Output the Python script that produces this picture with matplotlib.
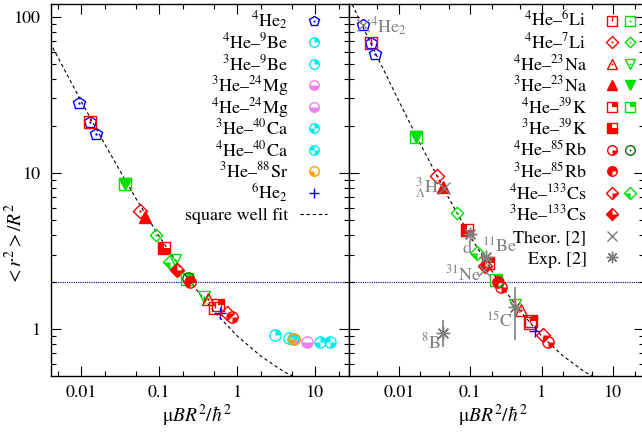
import matplotlib
matplotlib.use("Agg")
import numpy as np
import matplotlib.pyplot as plt
from matplotlib.path import Path
from matplotlib.ticker import LogLocator, FuncFormatter, NullFormatter

plt.rcParams['font.family'] = ['STIXGeneral', 'DejaVu Serif']
plt.rcParams['mathtext.fontset'] = 'stix'
plt.rcParams['font.size'] = 13

# ---------------- data ----------------
# square well fit, same curve in both panels
fit_x = [0.002, 0.0025, 0.005, 0.01, 0.02, 0.05, 0.1, 0.25, 0.5, 1.0, 2.0, 4.0, 6.0]
fit_y = [133, 107, 55.3, 28.8, 15.3, 6.88, 3.91, 2.0, 1.30, 0.90, 0.67, 0.53, 0.48]

# left panel
L_he2 = ([0.0095, 0.0130, 0.0156], [28.0, 21.3, 17.7])
L_li6_r = ([0.0130, 0.52], [21.3, 1.36])
L_li6_g = ([0.0359], [8.46])
L_na3_g = ([0.0359], [8.46])
L_li7_r = ([0.057], [5.71])
L_na3_r = ([0.066], [5.25])
L_li7_g = ([0.0907], [4.0])
L_k3_r = ([0.1135], [3.32])
L_cs4_g = ([0.138], [2.70])
L_na4_g = ([0.16, 0.37], [2.78, 1.61])
L_cs3_r = ([0.169], [2.39])
L_k4_r = ([0.56], [1.42])
L_k4_g = ([0.23], [2.10])
L_rb4_g = ([0.231], [2.11])
L_rb3_r = ([0.25], [2.01])
L_na4_r = ([0.417], [1.56])
L_he6 = ([0.605], [1.26])
L_cs4_r = ([0.74], [1.26])
L_rb4_r = ([0.855], [1.19])
L_be9_4 = ([3.07], [0.915])
L_be9_3 = ([4.55], [0.87])
L_mg3 = ([5.3], [0.86])
L_ca3 = ([5.2, 11.6], [0.86, 0.83])
L_sr3 = ([5.3], [0.86])
L_mg4 = ([7.8], [0.83])
L_ca4 = ([15.5], [0.83])

# right panel
R_he2 = ([0.0031, 0.00402, 0.00461], [88.9, 67.8, 57.9])
R_li6_r = ([0.00402, 0.68], [67.8, 1.09])
R_li6_g = ([0.0173], [17.1])
R_na3_g = ([0.0173], [17.1])
R_li7_r = ([0.0337], [9.57])
R_na3_r = ([0.0417], [8.1])
R_li7_g = ([0.064], [5.57])
R_k3_r = ([0.0885], [4.31])
R_cs4_g = ([0.122], [3.06])
R_cs3_r = ([0.16], [2.53])
R_k4_r = ([0.177, 0.70], [2.64, 1.12])
R_k4_g = ([0.232], [2.06])
R_rb3_r = ([0.245], [2.01])
R_rb4_r = ([0.273, 1.22], [1.87, 0.83])
R_na4_g = ([0.419], [1.43])
R_na4_r = ([0.52], [1.32])
R_he6 = ([0.80], [0.975])
R_cs4_r = ([1.04], [0.915])

# halo nuclei / molecules from ref. [2]
theor_x = [0.0031, 0.043, 0.155]
theor_y = [88.9, 8.0, 2.4]
exp_x = [0.0984, 0.165, 0.419, 0.0417]
exp_y = [4.06, 2.91, 1.38, 0.94]
exp_lo = [4.06, 2.91, 0.85, 0.77]
exp_hi = [4.06, 2.91, 1.87, 1.14]

# ---------------- marker shapes ----------------
def poly(pts):
    return Path(pts + [pts[0]], [Path.MOVETO] + [Path.LINETO] * (len(pts) - 1) + [Path.CLOSEPOLY])

SQ = poly([(-1, -1), (1, -1), (1, 1), (-1, 1)])
SQ_TR = poly([(0, 0), (1, 0), (1, 1), (0, 1)])
SQ_3Q = poly([(-1, -1), (1, -1), (1, 0), (0, 0), (0, 1), (-1, 1)])
DIA = poly([(1, 0), (0, 1), (-1, 0), (0, -1)])
DIA_BR = poly([(0, 0), (1, 0), (0, -1)])
DIA_BL = poly([(0, 0), (0, -1), (-1, 0)])
DIA_3Q = poly([(1, 0), (0, 0), (0, 1), (-1, 0), (0, -1)])
TICK = Path([(0, 0), (0, 1)], [Path.MOVETO, Path.LINETO])
C_TR = Path.wedge(0, 90)
C_BL = Path.wedge(180, 270)
C_BR = Path.wedge(270, 360)
C_BOT = Path.wedge(180, 360)
C_3Q = Path.wedge(0, 270)
C_CHK1 = Path.make_compound_path(Path.wedge(0, 90), Path.wedge(180, 270))
C_CHK2 = Path.make_compound_path(Path.wedge(90, 180), Path.wedge(270, 360))

RED = '#ff0000'
GRN = '#00e000'
DKGRN = '#007000'
BLUE = '#0000ff'
CYAN = '#00eeee'
VIOL = '#ee82ee'
ORNG = '#ffa000'
GRAY = '#808080'


def ol(m, c, s=1.0, dot=True):
    lay = [(m, 'none', c, s)]
    if dot:
        lay.append(('o', c, 'none', 0.2))
    return lay


def fl(m, c, s=1.0):
    return [(m, c, c, s)]


def part(outline, fill, c, s=1.0):
    return [(fill, c, 'none', s), (outline, 'none', c, s)]


st = {
    'he2': ol('p', BLUE, 1.05),
    'be9_4': part('o', C_TR, CYAN, 0.95),
    'be9_3': part('o', C_TR, CYAN, 0.95),
    'mg3': part('o', C_BOT, VIOL, 0.95),
    'mg4': part('o', C_BOT, VIOL, 0.95),
    'ca3': part('o', C_CHK1, CYAN, 0.95),
    'ca4': part('o', C_CHK2, CYAN, 0.95),
    'sr3': part('o', C_BL, ORNG, 0.95),
    'he6': [('+', 'none', BLUE, 1.0)],
    'li6_r': [(SQ, 'none', RED, 1.0), (TICK, 'none', RED, 1.0)],
    'li6_g': ol(SQ, GRN),
    'li7_r': ol(DIA, RED, 1.2),
    'li7_g': ol(DIA, GRN, 1.05),
    'na4_r': ol('^', RED),
    'na4_g': ol('v', GRN),
    'na3_r': fl('^', RED),
    'na3_g': fl('v', GRN),
    'k4_r': part(SQ, SQ_TR, RED),
    'k4_g': part(SQ, SQ_TR, GRN),
    'k3_r': part(SQ, SQ_3Q, RED),
    'rb4_r': part('o', C_BR, RED, 0.95),
    'rb4_g': ol('o', DKGRN, 0.95),
    'rb3_r': part('o', C_3Q, RED, 0.95),
    'cs4_r': part(DIA, DIA_BR, RED, 1.2),
    'cs4_g': part(DIA, DIA_BL, GRN, 1.2),
    'cs3_r': part(DIA, DIA_3Q, RED, 1.2),
    'theor': [('x', 'none', GRAY, 1.0)],
    'exp': [((8, 2, 0), 'none', GRAY, 1.15)],
}

MS = 8.5


def draw(ax, xy, key, ms=MS, **kw):
    x, y = xy
    for m, fc, ec, s in st[key]:
        ax.plot(x, y, ls='none', marker=m, ms=ms * s, mfc=fc, mec=ec,
                mew=0 if ec == 'none' else 1.0, **kw)


# ---------------- figure ----------------
fig = plt.figure(figsize=(6.42, 4.34), dpi=100)
W, H = 642.0, 434.0
top, bot = 4.0, 375.5
axL = fig.add_axes([51 / W, (H - bot) / H, 298 / W, (bot - top) / H])
axR = fig.add_axes([349 / W, (H - bot) / H, 295 / W, (bot - top) / H])

for ax, xl in ((axL, (0.0041, 27.0)), (axR, (0.002, 27.0))):
    ax.set_xscale('log')
    ax.set_yscale('log')
    ax.set_xlim(*xl)
    ax.set_ylim(0.503, 121)
    ax.plot(fit_x, fit_y, color='black', ls=(0, (3, 2.5)), lw=0.8, zorder=1)
    ax.axhline(2.0, color='#0000b0', ls=(0, (1, 1)), lw=0.8, zorder=1)
    ax.xaxis.set_major_locator(LogLocator(base=10, numticks=10))
    ax.xaxis.set_minor_locator(LogLocator(base=10, subs=(2, 5), numticks=10))
    ax.yaxis.set_minor_locator(LogLocator(base=10, subs=np.arange(2, 10), numticks=10))
    ax.xaxis.set_major_formatter(FuncFormatter(lambda v, p: '%g' % v))
    ax.xaxis.set_minor_formatter(NullFormatter())
    ax.yaxis.set_minor_formatter(NullFormatter())
    ax.tick_params(which='both', direction='in', top=True, right=True, width=0.8,
                   labelsize=13, pad=7)
    ax.tick_params(which='major', length=7)
    ax.tick_params(which='minor', length=3.5)
    for sp in ax.spines.values():
        sp.set_linewidth(1.0)
    ax.set_xlabel(r'$\mathrm{\mu}BR^2/\hbar^2$', fontsize=14)

axL.yaxis.set_major_formatter(FuncFormatter(lambda v, p: '%g' % v))
axR.yaxis.set_major_formatter(NullFormatter())
axL.set_ylabel(r'$<r^2>/R^2$', fontsize=14)
axL.yaxis.set_label_coords(-0.085, 0.355)
axL.xaxis.set_label_coords(0.49, -0.073)
axR.xaxis.set_label_coords(0.49, -0.073)

# left panel points
for xy, key in [(L_he2, 'he2'), (L_li6_r, 'li6_r'), (L_li6_g, 'li6_g'), (L_na3_g, 'na3_g'),
                (L_li7_r, 'li7_r'), (L_na3_r, 'na3_r'), (L_li7_g, 'li7_g'), (L_k3_r, 'k3_r'),
                (L_cs4_g, 'cs4_g'), (L_na4_g, 'na4_g'), (L_cs3_r, 'cs3_r'), (L_k4_r, 'k4_r'),
                (L_k4_g, 'k4_g'), (L_rb4_g, 'rb4_g'), (L_rb3_r, 'rb3_r'), (L_na4_r, 'na4_r'),
                (L_he6, 'he6'), (L_cs4_r, 'cs4_r'), (L_rb4_r, 'rb4_r'),
                (L_be9_4, 'be9_4'), (L_be9_3, 'be9_3'), (L_mg3, 'mg3'), (L_ca3, 'ca3'),
                (L_sr3, 'sr3'), (L_mg4, 'mg4'), (L_ca4, 'ca4')]:
    draw(axL, xy, key)

# right panel points
for xy, key in [(R_he2, 'he2'), (R_li6_r, 'li6_r'), (R_li6_g, 'li6_g'), (R_na3_g, 'na3_g'),
                (R_li7_r, 'li7_r'), (R_na3_r, 'na3_r'), (R_li7_g, 'li7_g'), (R_k3_r, 'k3_r'),
                (R_cs4_g, 'cs4_g'), (R_cs3_r, 'cs3_r'), (R_k4_r, 'k4_r'), (R_k4_g, 'k4_g'),
                (R_rb3_r, 'rb3_r'), (R_rb4_r, 'rb4_r'), (R_na4_g, 'na4_g'), (R_na4_r, 'na4_r'),
                (R_he6, 'he6'), (R_cs4_r, 'cs4_r')]:
    draw(axR, xy, key)

draw(axR, (theor_x, theor_y), 'theor')
yerr = [np.array(exp_y) - np.array(exp_lo), np.array(exp_hi) - np.array(exp_y)]
axR.errorbar(exp_x, exp_y, yerr=yerr, fmt='none', ecolor=GRAY, elinewidth=1.2, capsize=0)
draw(axR, (exp_x, exp_y), 'exp')

# gray labels next to the ref. [2] systems
for txt, x, y, ha in [(r'$^{4}$He$_{2}$', 0.0039, 78.9, 'left'),
                      (r'$^{3}_{\Lambda}$H', 0.0374, 7.45, 'right'),
                      ('d', 0.0893, 3.07, 'center'),
                      (r'$^{11}$Be', 0.145, 3.07, 'left'),
                      (r'$^{31}$Ne', 0.145, 2.06, 'right'),
                      (r'$^{15}$C', 0.393, 1.035, 'right'),
                      (r'$^{8}$B', 0.0387, 0.755, 'right')]:
    axR.text(x, y, txt, color=GRAY, ha=ha, va='baseline', fontsize=13)

# ---------------- legends (built by hand, gnuplot style) ----------------
def fx(ax, px):
    x0 = 51.0 if ax is axL else 349.0
    w = 298.0 if ax is axL else 295.0
    return (px - x0) / w


def fy(py):
    return (bot - py) / (bot - top)


rows_L = [(r'$^{4}$He$_{2}$', ['he2']),
          (r'$^{4}$He–$^{9}$Be', ['be9_4']),
          (r'$^{3}$He–$^{9}$Be', ['be9_3']),
          (r'$^{3}$He–$^{24}$Mg', ['mg3']),
          (r'$^{4}$He–$^{24}$Mg', ['mg4']),
          (r'$^{3}$He–$^{40}$Ca', ['ca3']),
          (r'$^{4}$He–$^{40}$Ca', ['ca4']),
          (r'$^{3}$He–$^{88}$Sr', ['sr3']),
          (r'$^{6}$He$_{2}$', ['he6']),
          ('square well fit', [])]
rows_R = [(r'$^{4}$He–$^{6}$Li', ['li6_r', 'li6_g']),
          (r'$^{4}$He–$^{7}$Li', ['li7_r', 'li7_g']),
          (r'$^{4}$He–$^{23}$Na', ['na4_r', 'na4_g']),
          (r'$^{3}$He–$^{23}$Na', ['na3_r', 'na3_g']),
          (r'$^{4}$He–$^{39}$K', ['k4_r', 'k4_g']),
          (r'$^{3}$He–$^{39}$K', ['k3_r']),
          (r'$^{4}$He–$^{85}$Rb', ['rb4_r', 'rb4_g']),
          (r'$^{3}$He–$^{85}$Rb', ['rb3_r']),
          (r'$^{4}$He–$^{133}$Cs', ['cs4_r', 'cs4_g']),
          (r'$^{3}$He–$^{133}$Cs', ['cs3_r']),
          ('Theor. [2]', ['theor']),
          ('Exp. [2]', ['exp'])]

for ax, rows, tx, mxs in ((axL, rows_L, 288.0, [314.0]), (axR, rows_R, 586.7, [611.7, 630.0])):
    for i, (lab, keys) in enumerate(rows):
        py = 20.7 + 21.5 * i
        ax.text(fx(ax, tx), fy(py + 6.3), lab, transform=ax.transAxes,
                ha='right', va='baseline', fontsize=13)
        for k, mx in zip(keys, mxs):
            draw(ax, ([fx(ax, mx)], [fy(py)]), k, ms=MS * 0.85,
                 transform=ax.transAxes, clip_on=False)
        if ax is axL and not keys:
            ax.plot([fx(ax, 300), fx(ax, 327)], [fy(py), fy(py)], color='black',
                    ls=(0, (3, 2.5)), lw=0.8, transform=ax.transAxes)

fig.savefig('out.png', dpi=100)
